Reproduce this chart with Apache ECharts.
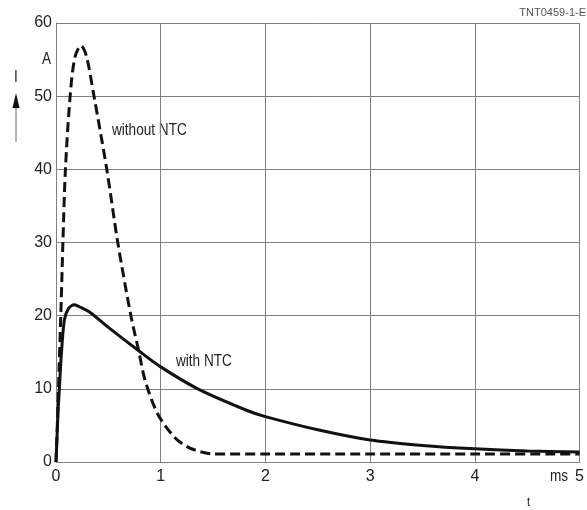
<!DOCTYPE html>
<html>
<head>
<meta charset="utf-8">
<script src="https://cdn.jsdelivr.net/npm/echarts@6/dist/echarts.min.js"></script>
<style>
  html, body { margin: 0; padding: 0; background: #fff; }
  #main { width: 587px; height: 510px; }
</style>
</head>
<body>
<div id="main"></div>
<script>
// curva sin NTC (discontinua) - tiempo en ms, corriente en A
var tSinNtc = [0, 0.015, 0.03, 0.05, 0.066, 0.09, 0.135, 0.18, 0.238, 0.29, 0.363, 0.485, 0.59, 0.715, 0.79, 0.85, 0.97, 1.13, 1.25, 1.38, 1.5, 2, 3, 4, 5];
var iSinNtc = [0, 6, 13, 22, 30, 40, 50, 55.3, 56.9, 55.5, 50, 40, 30, 20, 15.2, 11.2, 6.6, 3.4, 2.1, 1.4, 1.1, 1.1, 1.1, 1.1, 1.1];
// curva con NTC (continua)
var tConNtc = [0, 0.01, 0.02, 0.033, 0.05, 0.08, 0.12, 0.175, 0.24, 0.32, 0.5, 0.79, 1.0, 1.354, 1.825, 2.0, 2.5, 3.0, 3.5, 4.0, 4.5, 5.0];
var iConNtc = [0, 3.5, 7, 10.2, 14.5, 19.4, 21.0, 21.5, 21.1, 20.5, 18.4, 15.2, 13.0, 10.0, 7.04, 6.2, 4.4, 3.0, 2.26, 1.8, 1.5, 1.35];
// ejes
var ticksX = [0, 1, 2, 3, 4, 5];
var ticksY = [0, 10, 20, 30, 40, 50, 60];

var fuente = "'Liberation Sans Narrow', 'Arial Narrow', 'Liberation Sans', sans-serif";

function pares(ts, is) {
  return ts.map(function (t, k) { return [t, is[k]]; });
}

// texto estrecho (la fuente narrow no esta instalada)
function texto(x, y, t, tam) {
  return {
    type: 'text', x: x, y: y, scaleX: 0.85,
    style: { text: t, fontSize: tam || 16, fontFamily: fuente, fill: '#222' }
  };
}

var chart = echarts.init(document.getElementById('main'));

var option = {
  animation: false,
  backgroundColor: '#fff',
  grid: { left: 56, right: 1, top: 23, bottom: 48 },
  xAxis: {
    type: 'value',
    min: ticksX[0],
    max: ticksX[ticksX.length - 1],
    interval: 1,
    axisLine: { show: true, lineStyle: { color: '#808080', width: 1 } },
    axisTick: { show: false },
    splitLine: { show: true, lineStyle: { color: '#808080', width: 1 } },
    axisLabel: { fontSize: 16, color: '#222', fontFamily: fuente, margin: 7, showMaxLabel: true, alignMaxLabel: 'center' }
  },
  yAxis: {
    type: 'value',
    min: ticksY[0],
    max: ticksY[ticksY.length - 1],
    interval: 10,
    axisLine: { show: true, lineStyle: { color: '#808080', width: 1 } },
    axisTick: { show: false },
    splitLine: { show: true, lineStyle: { color: '#808080', width: 1 } },
    axisLabel: { fontSize: 16, color: '#222', fontFamily: fuente, margin: 4 }
  },
  series: [
    {
      name: 'without NTC',
      type: 'line',
      data: pares(tSinNtc, iSinNtc),
      smooth: 0.3,
      showSymbol: false,
      lineStyle: { color: '#111', width: 3, type: [10, 5] },
      z: 3
    },
    {
      name: 'with NTC',
      type: 'line',
      data: pares(tConNtc, iConNtc),
      smooth: 0.3,
      showSymbol: false,
      lineStyle: { color: '#111', width: 3 },
      z: 4
    }
  ],
  graphic: [
    // etiquetas de las curvas
    texto(112, 123, 'without NTC'),
    texto(176, 354, 'with NTC'),
    // unidades
    texto(42, 52, 'A'),
    texto(550, 469, 'ms'),
    texto(527, 496, 't', 13),
    // simbolo I con flecha
    texto(14, 70, 'I'),
    { type: 'line', shape: { x1: 16, y1: 104, x2: 16, y2: 142 }, style: { stroke: '#666', lineWidth: 1 } },
    { type: 'polygon', shape: { points: [[16, 93], [12.5, 108], [19.5, 108]] }, style: { fill: '#111' } },
    // codigo de la figura (recortado arriba)
    { type: 'text', right: 1, top: 7, style: { text: 'TNT0459-1-E', fontSize: 11, fontFamily: fuente, fill: '#555' } }
  ]
};

chart.setOption(option);
</script>
</body>
</html>
